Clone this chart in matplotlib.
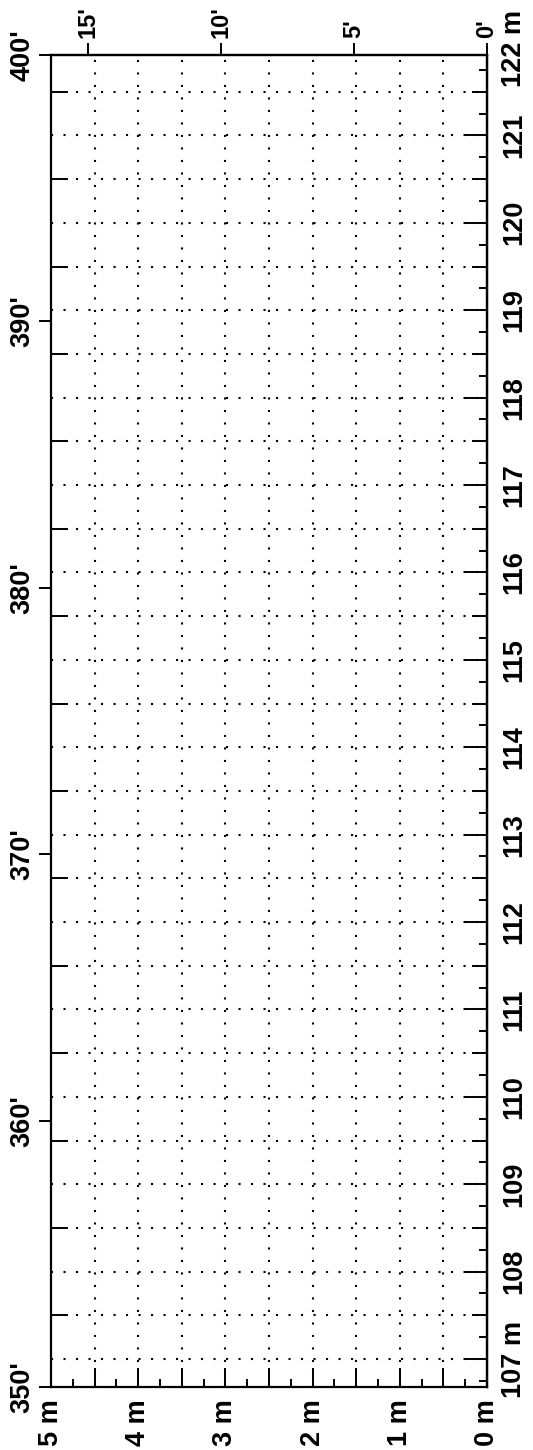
import numpy as np
import matplotlib
matplotlib.use("Agg")
import matplotlib.pyplot as plt
from matplotlib.ticker import FixedLocator, NullLocator

# =========================
# SCALE DATA
# =========================

FT_PER_M = 3.28084

# depth: feet on the left, metres on the right
depth_ft_labels = [350, 360, 370, 380, 390, 400]
depth_m_labels = [107, 108, 109, 110, 111, 112, 113, 114,
                  115, 116, 117, 118, 119, 120, 121]
depth_m_top = 122

# width: metres along the bottom, feet along the top
width_m_labels = [0, 1, 2, 3, 4, 5]
width_ft_labels = [0, 5, 10, 15]

grid_step_m = 0.5


def m2ft(m):
    return np.asarray(m) * FT_PER_M


def ft2m(ft):
    return np.asarray(ft) / FT_PER_M


plt.rcParams["font.family"] = ["Liberation Sans", "DejaVu Sans"]
plt.rcParams["font.weight"] = "bold"
plt.rcParams["font.size"] = 19.5

fig = plt.figure(figsize=(5.33, 14.5), dpi=100)
ax = fig.add_axes([51 / 533, 63 / 1450, 436 / 533, 1332 / 1450])

ax.set_xlim(max(width_m_labels), min(width_m_labels))
ax.set_ylim(min(depth_ft_labels), max(depth_ft_labels))

for s in ax.spines.values():
    s.set_linewidth(1.6)

# =========================
# DOTTED METRIC GRID
# =========================

depth_grid_m = np.arange(depth_m_labels[0], depth_m_top, grid_step_m)
width_grid_m = np.arange(grid_step_m, max(width_m_labels), grid_step_m)

dots = (0, (1, 5))
for d in m2ft(depth_grid_m):
    ax.axhline(d, color="black", linewidth=1.5, linestyle=dots)
for w in width_grid_m:
    ax.axvline(w, color="black", linewidth=1.5, linestyle=dots)

# =========================
# LEFT: FEET
# =========================

ax.set_yticks(depth_ft_labels, labels=[f"{v}'" for v in depth_ft_labels])
ax.yaxis.set_minor_locator(FixedLocator(m2ft(np.arange(107.5, depth_m_top, 1.0))))
ax.tick_params(axis="y", which="major", direction="out", length=9, width=1.4,
               pad=2, labelrotation=90, left=True, right=False)
ax.tick_params(axis="y", which="minor", direction="in", length=12, width=1.4,
               left=True, right=False)
plt.setp(ax.get_yticklabels(), va="center")

# =========================
# BOTTOM: METRES
# =========================

half_m = np.arange(0, max(width_m_labels) + 0.01, grid_step_m)
bottom_labels = [f"{int(v)} m" if v == int(v) else "" for v in half_m]
ax.set_xticks(half_m, labels=bottom_labels)
ax.xaxis.set_minor_locator(FixedLocator(np.arange(0.25, 5, 0.5)))
ax.tick_params(axis="x", which="major", direction="in", length=14, width=1.4,
               pad=9, labelrotation=90, top=False, bottom=True)
ax.tick_params(axis="x", which="minor", direction="in", length=6, width=1.4,
               top=False, bottom=True)

# =========================
# TOP: FEET
# =========================

top = ax.secondary_xaxis("top", functions=(m2ft, ft2m))
top.set_xticks(width_ft_labels, labels=[f"{v}'" for v in width_ft_labels])
top.xaxis.set_minor_locator(NullLocator())
top.tick_params(axis="x", direction="out", length=8.5, width=1.4, pad=4,
                labelrotation=90, labelsize=17)
top.spines["top"].set_linewidth(1.6)

# =========================
# RIGHT: METRES
# =========================

right = ax.secondary_yaxis("right", functions=(ft2m, m2ft))
right_labels = [str(v) for v in depth_m_labels]
right_labels[0] = f"{depth_m_labels[0]} m"
right.set_yticks(depth_m_labels, labels=right_labels)
right.yaxis.set_minor_locator(FixedLocator(np.arange(106.75, depth_m_top, 0.5)))
right.tick_params(axis="y", which="major", direction="in", length=16, width=1.4,
                  pad=10, labelrotation=90)
right.tick_params(axis="y", which="minor", direction="in", length=6, width=1.4)
right.spines["right"].set_linewidth(1.6)
plt.setp(right.get_yticklabels(), va="center")

right_half = ax.secondary_yaxis("right", functions=(ft2m, m2ft))
right_half.set_yticks(np.arange(107.5, depth_m_top, 1.0), labels=[])
right_half.yaxis.set_minor_locator(NullLocator())
right_half.tick_params(axis="y", which="major", direction="in", length=11, width=1.4)

ax.annotate(f"{depth_m_top} m", xy=(1, m2ft(depth_m_top)),
            xycoords=("axes fraction", "data"), xytext=(10, 0),
            textcoords="offset points", rotation=90, ha="left", va="center",
            annotation_clip=False)

fig.savefig("out.png", dpi=100)
